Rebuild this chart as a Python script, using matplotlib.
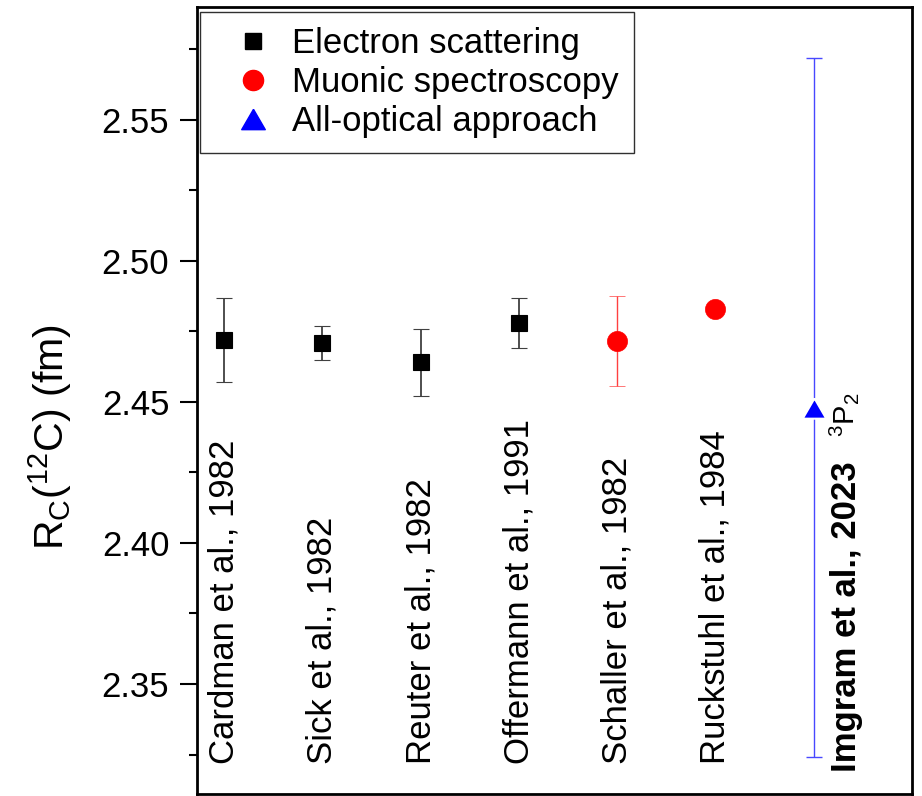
import matplotlib
matplotlib.use('Agg')
import matplotlib.pyplot as plt
from matplotlib.lines import Line2D
from matplotlib.ticker import MultipleLocator, FormatStrFormatter

plt.rcParams['font.family'] = ['Liberation Sans', 'DejaVu Sans']
plt.rcParams['mathtext.default'] = 'regular'

# charge radius of 12C from the different methods (fm)
refs = ['Cardman et al., 1982', 'Sick et al., 1982', 'Reuter et al., 1982',
        'Offermann et al., 1991', 'Schaller et al., 1982', 'Ruckstuhl et al., 1984',
        'Imgram et al., 2023']

elec_x = [1, 2, 3, 4]
elec_r = [2.472, 2.471, 2.464, 2.478]
elec_err = [0.015, 0.006, 0.012, 0.009]

muon_x = [5, 6]
muon_r = [2.4715, 2.4829]
muon_err = [0.016, 0.0019]

opt_x = [7]
opt_r = [2.448]
opt_err = [0.124]

# flattened triangle for the optical point
tri = [(0, 0.5), (-0.58, -0.5), (0.58, -0.5), (0, 0.5)]

fig = plt.figure(figsize=(9.22, 7.96), dpi=100)
ax = fig.add_axes([0.2137, 0.0025, 0.7755, 0.9887])

ax.errorbar(elec_x, elec_r, yerr=elec_err, fmt='s', color='black', ms=12, mew=0.8,
            ecolor='#404040', elinewidth=1.3, capsize=6, capthick=1.3)
ax.errorbar(muon_x, muon_r, yerr=muon_err, fmt='o', color='red', ms=14.5, mew=0.5,
            ecolor='#ff4040', elinewidth=1.0, capsize=6, capthick=1.0)
ax.errorbar(opt_x, opt_r, yerr=opt_err, fmt='none', ecolor='#4848ff',
            elinewidth=1.0, capsize=6, capthick=1.0)
ax.plot(opt_x, opt_r, ls='none', marker=tri, ms=17, mfc='blue', mec='white', mew=1.5)

# reference names written vertically under each point
for x, name in zip(elec_x + muon_x, refs[:6]):
    ax.text(x, 2.3215, name, rotation=90, ha='center', va='bottom', fontsize=25)
ax.text(7.33, 2.3187, refs[6], rotation=90, ha='center', va='bottom',
        fontsize=25, fontweight='bold')
ax.text(7.31, 2.4376, r'$^{3}$P$_{2}$', rotation=90, ha='center', va='bottom', fontsize=21)

ax.set_xlim(0.725, 8.0)
ax.set_ylim(2.311, 2.590)
ax.set_xticks([])
ax.yaxis.set_major_locator(MultipleLocator(0.05))
ax.yaxis.set_minor_locator(MultipleLocator(0.025))
ax.yaxis.set_major_formatter(FormatStrFormatter('%.2f'))
ax.tick_params(axis='y', which='major', direction='out', length=12, width=1.5,
               labelsize=25, pad=8)
ax.tick_params(axis='y', which='minor', direction='out', length=6, width=1.5)
for s in ax.spines.values():
    s.set_linewidth(2.0)

ax.set_ylabel(r'R$_{C}$($^{12}$C) (fm)', fontsize=29.5)
ax.yaxis.set_label_coords(-0.172, 0.4536)

handles = [
    Line2D([], [], ls='none', marker='s', color='black', ms=12),
    Line2D([], [], ls='none', marker='o', color='red', ms=14.5),
    Line2D([], [], ls='none', marker=tri, color='blue', ms=17),
]
labels = ['Electron scattering', 'Muonic spectroscopy', 'All-optical approach']
leg = ax.legend(handles, labels, loc='upper left', bbox_to_anchor=(0.004, 0.994),
                borderaxespad=0, fontsize=25, fancybox=False, framealpha=1,
                edgecolor='#303030', borderpad=0.44, handlelength=2.2,
                handletextpad=0.02, labelspacing=0.17)
leg.get_frame().set_linewidth(1.0)

fig.savefig('out.png', dpi=100)
